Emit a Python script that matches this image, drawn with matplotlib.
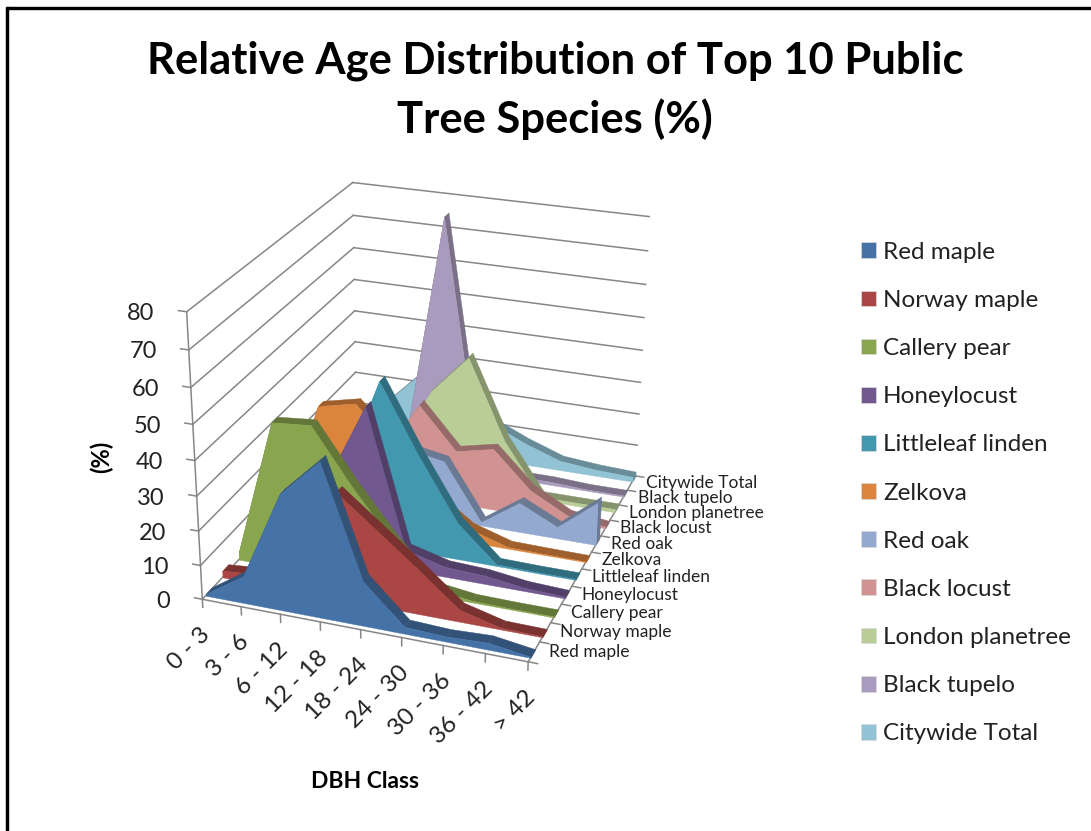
#!/usr/bin/env python3
"""3D area chart of the relative age distribution of public tree species."""
import numpy as np
import matplotlib
matplotlib.use('Agg')
import matplotlib.pyplot as plt
from matplotlib.colors import to_rgb
from matplotlib.patches import Patch, Rectangle
from mpl_toolkits.mplot3d import proj3d
from mpl_toolkits.mplot3d.art3d import Poly3DCollection

plt.rcParams['font.family'] = ['Lato', 'DejaVu Sans']

dbh_classes = ['0 - 3', '3 - 6', '6 - 12', '12 - 18', '18 - 24', '24 - 30', '30 - 36', '36 - 42', '> 42']
species = ['Red maple', 'Norway maple', 'Callery pear', 'Honeylocust', 'Littleleaf linden', 'Zelkova',
           'Red oak', 'Black locust', 'London planetree', 'Black tupelo', 'Citywide Total']
colors = ['#4572A7', '#AA4643', '#89A54E', '#71588F', '#4198AF', '#DB843D',
          '#93A9CF', '#D19392', '#B9CD96', '#A99BBD', '#92C3D4']

red_maple = [0.5, 8, 33.5, 44.5, 13, 2, 1.5, 2, 0.3]
norway_maple = [2, 3, 20, 31, 22, 13, 3.5, 0.5, 0.3]
callery_pear = [2, 42.5, 43.5, 28, 14, 2, 0.5, 0.3, 0.3]
honeylocust = [1, 5, 23, 46, 6, 3, 2.5, 1, 0.5]
littleleaf_linden = [1, 5, 20, 49, 29, 11, 0.5, 0.3, 0.3]
zelkova = [1, 34, 36.5, 25, 12, 4, 0.5, 0.3, 0.2]
red_oak = [1, 3, 10, 20, 18, 1, 9, 3.5, 13]
black_locust = [1, 3, 12, 29, 16.5, 19, 8, 2, 0.5]
london_planetree = [0.5, 2, 10, 29, 41, 17, 1, 1, 1]
black_tupelo = [0, 0.5, 11, 78, 4, 1, 1, 0.4, 0.4]
citywide_total = [3, 13, 24, 26, 12, 7, 3, 2, 1.5]
all_values = [red_maple, norway_maple, callery_pear, honeylocust, littleleaf_linden, zelkova,
              red_oak, black_locust, london_planetree, black_tupelo, citywide_total]
z_ticks = [0, 10, 20, 30, 40, 50, 60, 70, 80]

WIDTH, HEIGHT = 1091, 831
GRID = '#868686'
TEXT = '#222222'


def to_pixels(ax, x, y, z):
    vx, vy, _ = proj3d.proj_transform(x, y, z, ax.get_proj())
    return ax.transData.transform((vx, vy))


def label(fig, ax, point, offset, text, **kwargs):
    px, py = to_pixels(ax, *point)
    fig.text((px + offset[0]) / WIDTH, (py + offset[1]) / HEIGHT, text, color=TEXT, **kwargs)


def draw_series(ax, s, values, color):
    y0 = 0.2 + 1.04 * s
    y1 = y0 + 0.38
    x = np.arange(len(values))
    v = np.array(values, float)
    dark = tuple(c * 0.72 for c in to_rgb(color))
    base = 100 - 8 * s

    def add(verts, col, z):
        coll = Poly3DCollection([verts], facecolors=[col], edgecolors=[col], linewidths=0.3, zorder=z)
        ax.add_collection3d(coll)
        coll.set_clip_on(False)

    for i in range(len(x) - 1):
        add([(x[i], y0, v[i]), (x[i + 1], y0, v[i + 1]), (x[i + 1], y1, v[i + 1]), (x[i], y1, v[i])],
            dark, base + i * 0.1)
    add([(x[-1], y0, 0), (x[-1], y1, 0), (x[-1], y1, v[-1]), (x[-1], y0, v[-1])], dark, base + 1)
    front = [(x[0], y0, 0)] + [(a, y0, b) for a, b in zip(x, v)] + [(x[-1], y0, 0)]
    add(front, color, base + 2)


def line(ax, xs, ys, zs):
    ln, = ax.plot(xs, ys, zs, color=GRID, lw=1.1, zorder=1)
    ln.set_clip_on(False)


def main():
    fig = plt.figure(figsize=(WIDTH / 100, HEIGHT / 100), dpi=100, facecolor='white')
    ax = fig.add_subplot(projection='3d', computed_zorder=False)
    n_x, n_y = len(dbh_classes) - 1, len(species)
    ax.set_xlim(0, n_x)
    ax.set_ylim(0, n_y)
    ax.set_zlim(0, z_ticks[-1])
    ax.set_axis_off()

    # camera fitted to the corners of the plot box in the picture
    ax.view_init(elev=24.465, azim=-70.453, roll=-0.2016)
    ax.set_proj_type('persp', focal_length=0.6011)
    ax.set_box_aspect((1, 1.2215, 0.9084))
    ax.set_position([133.8 / WIDTH, 130.0 / HEIGHT, 582.6 / WIDTH, 582.6 / HEIGHT])
    ax.apply_aspect()

    for z in z_ticks:
        line(ax, [0, 0], [0, n_y], [z, z])
        line(ax, [0, n_x], [n_y, n_y], [z, z])
        line(ax, [0, -0.2], [0, 0], [z, z])
        label(fig, ax, (0, 0, z), (-32, -2), str(z), fontsize=17, ha='right', va='center')
    line(ax, [0, 0], [0, 0], [0, z_ticks[-1]])
    line(ax, [0, n_x], [0, 0], [0, 0])
    line(ax, [n_x, n_x], [0, n_y], [0, 0])
    for i, lab in enumerate(dbh_classes):
        line(ax, [i, i], [0, 0], [0, -2.4])
        label(fig, ax, (i, 0, 0), (4, -32), lab, fontsize=17.5, rotation=45, ha='right', va='center',
              rotation_mode='anchor')
    for j, lab in enumerate(species):
        line(ax, [n_x, n_x + 0.22], [j, j], [0, 0])
        label(fig, ax, (n_x, j + 0.5, 0), (15, 0), lab, fontsize=12.5, ha='left', va='center')
    line(ax, [n_x, n_x + 0.22], [n_y, n_y], [0, 0])

    for s, vals in enumerate(all_values):
        draw_series(ax, s, vals, colors[s])

    fig.text(555 / WIDTH, 1 - 61 / HEIGHT, 'Relative Age Distribution of Top 10 Public', fontsize=31.3,
             fontweight='bold', ha='center', va='center', color='black')
    fig.text(555 / WIDTH, 1 - 119 / HEIGHT, 'Tree Species (%)', fontsize=31.3, fontweight='bold', ha='center',
             va='center', color='black')
    fig.text(101 / WIDTH, 1 - 457 / HEIGHT, '(%)', fontsize=17, fontweight='bold', rotation=90, ha='center',
             va='center', color='black')
    fig.text(365 / WIDTH, 1 - 781 / HEIGHT, 'DBH Class', fontsize=16.5, fontweight='bold', ha='center', va='center',
             color='black')

    handles = [Patch(facecolor=c, edgecolor='#dddddd', lw=0.5) for c in colors]
    fig.legend(handles, species, loc='upper left', bbox_to_anchor=(839 / WIDTH, 1 - 220 / HEIGHT), frameon=False,
               fontsize=17.5, labelspacing=1.117, handlelength=0.62, handleheight=0.62, handletextpad=0.29,
               labelcolor=TEXT)

    # screenshot border, top and left only
    fig.add_artist(Rectangle((7 / WIDTH, 1 - 9 / HEIGHT), 1 - 7 / WIDTH, 2 / HEIGHT, color='black',
                             transform=fig.transFigure))
    fig.add_artist(Rectangle((6 / WIDTH, 0), 2 / WIDTH, 1 - 7 / HEIGHT, color='black', transform=fig.transFigure))

    fig.savefig('out.png', dpi=100, facecolor='white')


if __name__ == '__main__':
    main()
